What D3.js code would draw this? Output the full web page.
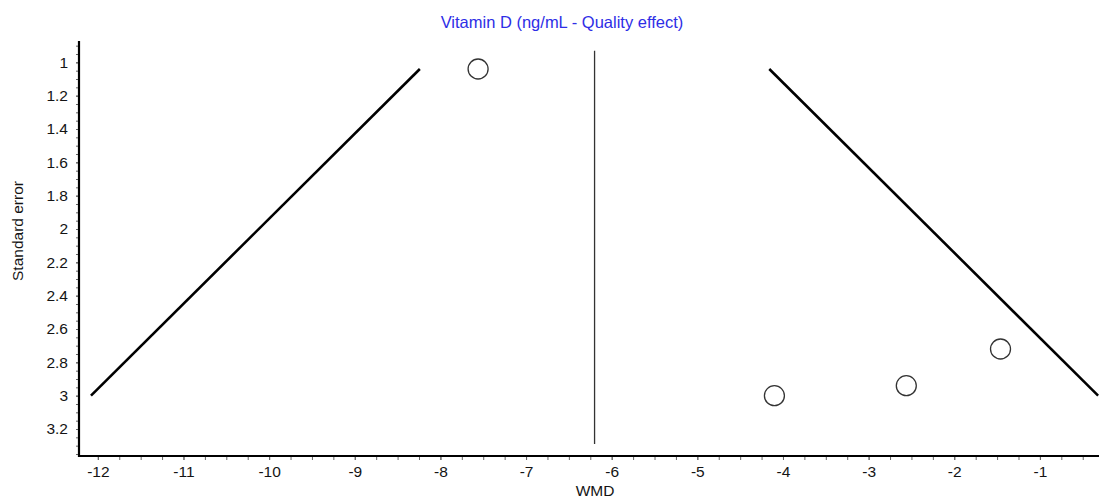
<!DOCTYPE html>
<html>
<head>
<meta charset="utf-8">
<script src="https://cdn.jsdelivr.net/npm/d3@7/dist/d3.min.js"></script>
<style>
  html, body { margin: 0; padding: 0; background: #fff; }
  svg { display: block; font-family: "Liberation Sans", Arial, sans-serif; }
</style>
</head>
<body>
<svg id="chart" width="1099" height="499"></svg>
<script>
// ---- data ----
const studyWMD = [-7.56, -4.10, -2.56, -1.46];
const studySE  = [1.04, 3.00, 2.94, 2.72];

const pooledWMD = -6.2;
const pooledLineSE = [0.93, 3.29];

const funnelSE       = [1.04, 3.00];
const funnelLeftWMD  = [-8.24, -12.08];
const funnelRightWMD = [-4.16, -0.32];

const xTickLabels = [-12, -11, -10, -9, -8, -7, -6, -5, -4, -3, -2, -1];
const yTickLabels = [1, 1.2, 1.4, 1.6, 1.8, 2, 2.2, 2.4, 2.6, 2.8, 3, 3.2];

const titleText = "Vitamin D (ng/mL - Quality effect)";
const xTitle = "WMD";
const yTitle = "Standard error";

// ---- layout ----
const plotL = 79, plotR = 1099, plotT = 41, plotB = 456;
const svg = d3.select("#chart");
const textCol = "#141414";

const x = d3.scaleLinear().domain([-12.22, -0.31]).range([plotL, plotR]);
const y = d3.scaleLinear().domain([0.872, 3.362]).range([plotT, plotB]);

const xMinor = d3.range(-12, -0.4, 0.25);
const yMinor = d3.range(0.9, 3.36, 0.05);

// minor ticks
svg.append("g")
  .attr("transform", `translate(0,${plotB})`)
  .call(d3.axisBottom(x).tickValues(xMinor).tickSize(4).tickFormat(""))
  .call(g => g.select(".domain").remove())
  .call(g => g.selectAll("line").attr("stroke", "#666"));

svg.append("g")
  .attr("transform", `translate(${plotL},0)`)
  .call(d3.axisLeft(y).tickValues(yMinor).tickSize(3).tickFormat(""))
  .call(g => g.select(".domain").remove())
  .call(g => g.selectAll("line").attr("stroke", "#666"));

// labels
const xAx = svg.append("g")
  .attr("transform", `translate(0,${plotB})`)
  .call(d3.axisBottom(x).tickValues(xTickLabels).tickSize(4).tickPadding(6).tickFormat(d => String(d)));
xAx.select(".domain").remove();
xAx.selectAll("line").attr("stroke", "#666");
xAx.selectAll("text").attr("font-size", 15.5).attr("fill", textCol)
  .attr("font-family", "'Liberation Sans', Arial, sans-serif");

const yAx = svg.append("g")
  .attr("transform", `translate(${plotL},0)`)
  .call(d3.axisLeft(y).tickValues(yTickLabels).tickSize(3).tickPadding(8).tickFormat(d => String(d)));
yAx.select(".domain").remove();
yAx.selectAll("line").attr("stroke", "#666");
yAx.selectAll("text").attr("font-size", 15.5).attr("fill", textCol)
  .attr("font-family", "'Liberation Sans', Arial, sans-serif");

// axis lines
svg.append("line").attr("x1", plotL).attr("x2", plotL).attr("y1", plotT).attr("y2", plotB + 1)
  .attr("stroke", "#000").attr("stroke-width", 2.2);
svg.append("line").attr("x1", plotL - 1).attr("x2", plotR).attr("y1", plotB).attr("y2", plotB)
  .attr("stroke", "#000").attr("stroke-width", 2.2);

// pooled estimate line
svg.append("line")
  .attr("x1", x(pooledWMD)).attr("x2", x(pooledWMD))
  .attr("y1", y(pooledLineSE[0])).attr("y2", y(pooledLineSE[1]))
  .attr("stroke", "#333").attr("stroke-width", 1.3);

// funnel lines
const line = d3.line().x(d => x(d[0])).y(d => y(d[1]));
[funnelLeftWMD, funnelRightWMD].forEach(arr => {
  svg.append("path")
    .attr("d", line(arr.map((v, i) => [v, funnelSE[i]])))
    .attr("fill", "none").attr("stroke", "#000").attr("stroke-width", 2.6);
});

// study points
svg.append("g").selectAll("circle")
  .data(studyWMD.map((v, i) => ({ w: v, se: studySE[i] })))
  .join("circle")
  .attr("cx", d => x(d.w)).attr("cy", d => y(d.se)).attr("r", 10)
  .attr("fill", "#fff").attr("stroke", "#333").attr("stroke-width", 1.3);

// titles
svg.append("text").attr("x", 562).attr("y", 28).attr("text-anchor", "middle")
  .attr("font-size", 16.5).attr("fill", "#2e2ee6").text(titleText);
svg.append("text").attr("x", 595).attr("y", 496).attr("text-anchor", "middle")
  .attr("font-size", 15.5).attr("fill", textCol).text(xTitle);
svg.append("text").attr("transform", "translate(23,231) rotate(-90)").attr("text-anchor", "middle")
  .attr("font-size", 15.5).attr("fill", textCol).text(yTitle);
</script>
</body>
</html>
